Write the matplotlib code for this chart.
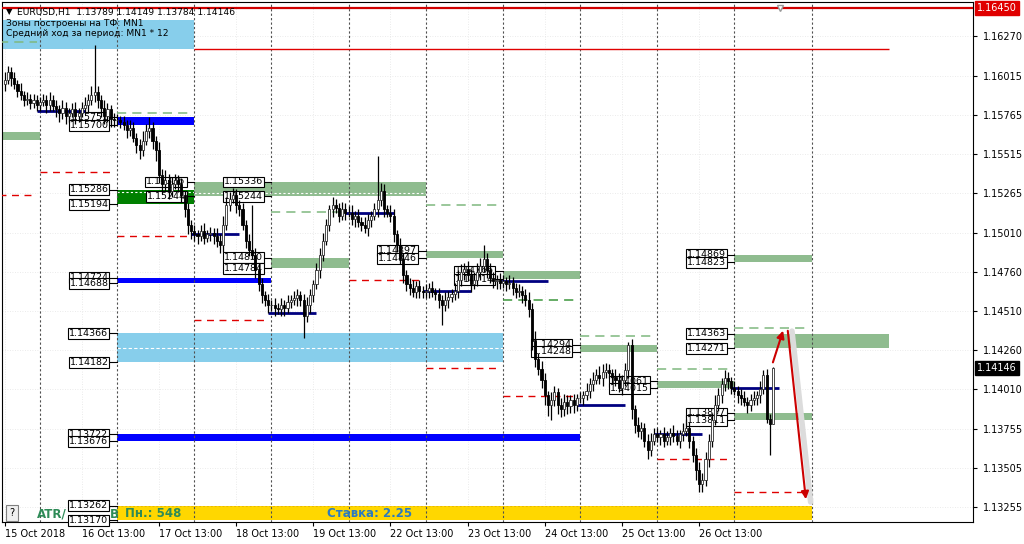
# EURUSD H1 chart with zones (MT4 style)
import numpy as np
import matplotlib.pyplot as plt

plt.rcParams['font.family'] = ['DejaVu Sans']

# ---- candle data (closes per hour, day by day) ----
close_15 = [1.1599, 1.1604, 1.1600, 1.1596, 1.1592, 1.1589, 1.1586, 1.1587, 1.1584, 1.1586, 1.1583]
close_16 = [1.1585, 1.1586, 1.1583, 1.1586, 1.1582, 1.1580, 1.1578, 1.1581, 1.1576, 1.1578, 1.1580, 1.1576,
            1.1578, 1.1581, 1.1583, 1.1586, 1.1589, 1.1591, 1.1586, 1.1581, 1.1576, 1.1580, 1.1574, 1.1573]
close_17 = [1.1573, 1.1572, 1.1570, 1.1567, 1.1568, 1.1562, 1.1557, 1.1554, 1.1560, 1.1566, 1.1568, 1.1560,
            1.1554, 1.1538, 1.1532, 1.1535, 1.1528, 1.1532, 1.1535, 1.1532, 1.1525, 1.1516, 1.1506, 1.1502]
close_18 = [1.1500, 1.1499, 1.1502, 1.1498, 1.1500, 1.1501, 1.1499, 1.1496, 1.1493, 1.1506, 1.1519, 1.1523,
            1.1525, 1.1519, 1.1516, 1.1506, 1.1496, 1.1490, 1.1487, 1.1477, 1.1468, 1.1461, 1.1458, 1.1455]
close_19 = [1.1455, 1.1453, 1.1452, 1.1455, 1.1453, 1.1457, 1.1458, 1.1459, 1.1461, 1.1458, 1.1448, 1.1455,
            1.1461, 1.1468, 1.1477, 1.1487, 1.1496, 1.1506, 1.1516, 1.1519, 1.1517, 1.1512, 1.1516, 1.1514]
close_22 = [1.1514, 1.1510, 1.1512, 1.1508, 1.1506, 1.1504, 1.1509, 1.1512, 1.1516, 1.1522, 1.1528, 1.1516,
            1.1514, 1.1512, 1.1500, 1.1493, 1.1484, 1.1474, 1.1468, 1.1466, 1.1463, 1.1467, 1.1464, 1.1463]
close_23 = [1.1464, 1.1466, 1.1463, 1.1462, 1.1458, 1.1455, 1.1458, 1.1460, 1.1462, 1.1464, 1.1471, 1.1476,
            1.1478, 1.1474, 1.1468, 1.1471, 1.1476, 1.1480, 1.1484, 1.1477, 1.1472, 1.1470, 1.1471, 1.1469]
close_24 = [1.1470, 1.1468, 1.1469, 1.1466, 1.1463, 1.1464, 1.1461, 1.1458, 1.1452, 1.1432, 1.1420, 1.1414,
            1.1407, 1.1397, 1.1391, 1.1394, 1.1399, 1.1391, 1.1388, 1.1393, 1.1390, 1.1394, 1.1391, 1.1395]
close_25 = [1.1395, 1.1397, 1.1400, 1.1404, 1.1407, 1.1410, 1.1408, 1.1412, 1.1413, 1.1411, 1.1409, 1.1407,
            1.1402, 1.1407, 1.1413, 1.1429, 1.1388, 1.1378, 1.1374, 1.1376, 1.1368, 1.1362, 1.1368, 1.1372]
close_26 = [1.1370, 1.1372, 1.1368, 1.1370, 1.1373, 1.1371, 1.1368, 1.1372, 1.1374, 1.1376, 1.1368, 1.1359,
            1.1349, 1.1340, 1.1343, 1.1356, 1.1368, 1.1381, 1.1391, 1.1397, 1.1404, 1.1408, 1.1406, 1.1402]
close_29 = [1.1400, 1.1397, 1.1395, 1.1393, 1.1391, 1.1394, 1.1395, 1.1397, 1.1401, 1.1410, 1.1382, 1.13789, 1.14146]

# wick lengths in pips (above max(open, close) / below min(open, close))
up_15 = [5, 4, 3, 4, 3, 5, 3, 4, 3, 4, 3]
dn_15 = [4, 3, 5, 3, 4, 3, 4, 3, 4, 3, 4]
up_16 = [3, 4, 3, 5, 3, 4, 3, 5, 4, 3, 4, 5, 3, 4, 5, 4, 6, 30, 4, 3, 5, 4, 3, 4]
dn_16 = [4, 3, 5, 4, 3, 5, 6, 4, 5, 4, 3, 5, 4, 3, 4, 5, 3, 4, 5, 6, 5, 4, 5, 4]
up_17 = [4, 3, 4, 3, 5, 4, 3, 4, 6, 5, 7, 4, 3, 5, 4, 6, 4, 5, 4, 3, 4, 3, 4, 3]
dn_17 = [3, 4, 3, 5, 4, 3, 5, 6, 4, 3, 4, 5, 7, 5, 6, 4, 5, 4, 3, 5, 4, 5, 6, 5]
up_18 = [4, 3, 4, 5, 3, 4, 3, 5, 4, 6, 5, 4, 5, 4, 3, 4, 3, 4, 29, 4, 5, 4, 3, 4]
dn_18 = [4, 5, 3, 4, 3, 4, 5, 4, 5, 4, 3, 4, 3, 5, 4, 3, 5, 4, 3, 5, 4, 5, 4, 5]
up_19 = [3, 4, 3, 4, 3, 4, 3, 5, 4, 3, 4, 5, 4, 3, 5, 4, 5, 4, 3, 5, 4, 3, 5, 4]
dn_19 = [4, 5, 3, 4, 5, 3, 4, 3, 5, 4, 14, 4, 5, 4, 3, 5, 4, 3, 4, 5, 3, 4, 3, 5]
up_22 = [4, 5, 3, 4, 3, 5, 4, 3, 4, 28, 5, 4, 3, 5, 4, 3, 5, 4, 3, 4, 5, 3, 4, 3]
dn_22 = [3, 4, 5, 3, 4, 3, 5, 4, 3, 5, 4, 5, 3, 4, 5, 4, 3, 5, 4, 5, 3, 4, 5, 4]
up_23 = [4, 3, 4, 3, 4, 3, 5, 4, 3, 5, 6, 5, 4, 5, 4, 5, 6, 5, 9, 4, 5, 4, 3, 4]
dn_23 = [4, 5, 3, 4, 5, 13, 4, 5, 3, 4, 5, 4, 5, 4, 5, 3, 4, 5, 4, 5, 3, 4, 5, 4]
up_24 = [4, 3, 5, 4, 3, 4, 3, 4, 5, 4, 6, 4, 5, 4, 3, 5, 4, 3, 4, 5, 4, 3, 4, 3]
dn_24 = [3, 4, 3, 5, 4, 3, 5, 4, 5, 6, 5, 4, 5, 6, 7, 10, 4, 6, 5, 4, 5, 4, 5, 4]
up_25 = [4, 3, 5, 4, 5, 4, 6, 5, 5, 4, 3, 5, 4, 3, 5, 2, 4, 3, 5, 4, 3, 4, 5, 4]
dn_25 = [3, 4, 3, 5, 4, 3, 4, 5, 4, 3, 5, 4, 3, 5, 4, 5, 6, 5, 4, 5, 4, 6, 4, 3]
up_26 = [4, 3, 5, 4, 3, 5, 4, 3, 5, 6, 4, 3, 4, 5, 4, 5, 4, 5, 6, 5, 4, 5, 4, 3]
dn_26 = [3, 5, 4, 3, 5, 4, 3, 5, 4, 3, 5, 5, 6, 5, 5, 4, 5, 4, 3, 4, 5, 4, 5, 4]
up_29 = [4, 3, 4, 5, 3, 4, 5, 3, 5, 3, 4, 3, 0.3]
dn_29 = [3, 5, 4, 3, 5, 4, 3, 4, 5, 3, 3, 20, 0.5]
first_open = 1.1596

# ---- axis labels ----
tick_labels = ['15 Oct 2018', '16 Oct 13:00', '17 Oct 13:00', '18 Oct 13:00', '19 Oct 13:00',
               '22 Oct 13:00', '23 Oct 13:00', '24 Oct 13:00', '25 Oct 13:00', '26 Oct 13:00']
price_ticks = [1.16270, 1.16015, 1.15765, 1.15515, 1.15265, 1.15010, 1.14760,
               1.14510, 1.14260, 1.14010, 1.13755, 1.13505, 1.13255]

# ---- zones: prices and day index (0 = 16 Oct, 1 = 17 Oct, ...), label day ----
zone_hi = [1.15655, 1.15751, 1.15286, 1.15336, 1.15336, 1.14850, 1.14724, 1.14366, 1.13722, 1.13262,
           1.14897, 1.14766, 1.14294, 1.14061, 1.13857, 1.14869, 1.14363]
zone_lo = [1.15604, 1.15700, 1.15194, 1.15244, 1.15244, 1.14784, 1.14688, 1.14182, 1.13676, 1.13170,
           1.14846, 1.14714, 1.14248, 1.14015, 1.13811, 1.14823, 1.14271]
zone_from = [-1, 1, 1, 2, 3, 3, 1, 1, 1, 1, 5, 6, 7, 8, 9, 9, 9]
zone_to = [0, 2, 2, 3, 5, 4, 3, 6, 7, 10, 6, 7, 8, 9, 10, 10, 11]
zone_kind = ['light', 'blue', 'dark', 'light', 'light', 'light', 'blue', 'sky', 'blue', 'gold',
             'light', 'light', 'light', 'light', 'light', 'light', 'light']
zone_label = [False, True, True, True, True, True, True, True, True, True,
              True, True, True, True, True, True, True]

navy_lvl = [1.1579, 1.1500, 1.1450, 1.1514, 1.1464, 1.1470, 1.1391, 1.1372, 1.1402]
navy_day = [0, 2, 3, 4, 5, 6, 7, 8, 9]
red_lvl = [1.15250, 1.15400, 1.14990, 1.14452, 1.14708, 1.14145, 1.13966, 1.13562, 1.13351]
red_day = [-1, 0, 1, 2, 4, 5, 6, 8, 9]
green_lvl = [1.16230, 1.15777, 1.15143, 1.15188, 1.14580, 1.14350, 1.14138, 1.14400]
green_day = [-1, 1, 3, 5, 6, 7, 8, 9]

top_level = 1.16450
month_level = 1.16187
last_price = 1.14146
arrow_up = [(238.7, 1.14164), (242.4, 1.14401)]
arrow_dn = [(243.5, 1.14401), (249.3, 1.13287)]

# ---- build OHLC ----
closes = np.array(close_15 + close_16 + close_17 + close_18 + close_19 + close_22 +
                  close_23 + close_24 + close_25 + close_26 + close_29)
up = np.array(up_15 + up_16 + up_17 + up_18 + up_19 + up_22 + up_23 + up_24 + up_25 + up_26 + up_29) / 10000
dn = np.array(dn_15 + dn_16 + dn_17 + dn_18 + dn_19 + dn_22 + dn_23 + dn_24 + dn_25 + dn_26 + dn_29) / 10000
opens = np.concatenate([[first_open], closes[:-1]])
highs = np.maximum(opens, closes) + up
lows = np.minimum(opens, closes) - dn
x = np.arange(len(closes))


def sep(k):
    # bar index of the day separator (00:00) for day k
    return 11 + 24 * k


fig = plt.figure(figsize=(10.24, 5.44), dpi=100)
ax = fig.add_axes([2 / 1024, 22 / 544, 971 / 1024, 520 / 544])
ax.set_xlim(-0.81, 301.2)
ax.set_ylim(1.13159, 1.16488)

# faint grid + day separators
for t in price_ticks:
    ax.axhline(t, color='#e4e4e4', ls=(0, (1, 2)), lw=0.6, zorder=0)
for t in range(0, 240, 24):
    ax.axvline(t, color='#e4e4e4', ls=(0, (1, 2)), lw=0.6, zorder=0)
for k in range(0, 11):
    ax.axvline(sep(k), color='#505050', ls=(0, (2, 2)), lw=0.8, zorder=3)

# header box
ax.fill_between([-0.81, sep(2)], 1.16186, 1.16370, color='#87ceeb', lw=0, zorder=1)

colors = {'light': '#8fbc8f', 'blue': '#0000ff', 'dark': '#008000', 'sky': '#87ceeb', 'gold': '#ffd700'}
for hi, lo, k0, k1, kind in zip(zone_hi, zone_lo, zone_from, zone_to, zone_kind):
    ax.fill_between([sep(k0), sep(k1)], lo, hi, color=colors[kind], lw=0, zorder=2)

# white dotted mid lines inside some zones
ax.hlines(1.15272, sep(1), sep(2), colors='white', ls=(0, (2, 2)), lw=0.8, zorder=2.5)
ax.hlines(1.15265, sep(2), sep(5), colors='white', ls=(0, (2, 2)), lw=0.8, zorder=2.5)
ax.hlines((1.14366 + 1.14182) / 2, sep(1), sep(6), colors='white', ls=(0, (3, 2)), lw=0.8, zorder=2.5)
ax.hlines(1.13262, sep(1), sep(10), colors='#e8b800', ls=(0, (2, 2)), lw=0.7, zorder=2.5)


# labels for zones
def price_box(price, k):
    s = sep(k)
    ax.plot([s - 2.5, s], [price, price], color='black', lw=0.8, zorder=4)
    ax.text(s - 2.7, price, '%.5f' % price, ha='right', va='center', fontsize=6.8, zorder=4.5,
            bbox=dict(boxstyle='square,pad=0.1', fc='white', ec='black', lw=0.8))


for hi, lo, k0, show in zip(zone_hi, zone_lo, zone_from, zone_label):
    if show:
        price_box(hi, k0)
        price_box(lo, k0)

# dashed projections
for lvl, k in zip(red_lvl, red_day):
    ax.hlines(lvl, sep(k), sep(k) + 22, colors='#e00000', ls=(0, (5, 4)), lw=1, zorder=4)
for lvl, k in zip(green_lvl, green_day):
    c = '#3c963c' if k == 6 else '#7fb87f'
    ax.hlines(lvl, sep(k), sep(k) + 23, colors=c, ls=(0, (6, 4)), lw=1.1, zorder=4)
for lvl, k in zip(navy_lvl, navy_day):
    ax.hlines(lvl, sep(k) - 1, sep(k) + 14, colors='#000080', lw=2, zorder=6)

# red levels
ax.axhline(top_level, color='#d00000', lw=1.6, zorder=5)
ax.hlines(month_level, sep(2), sep(11), colors='#e00000', lw=1, zorder=5)
ax.plot(241.2, top_level, marker='v', color='white', mec='#999999', ms=5, zorder=6)

# candles
bull = closes >= opens
ax.vlines(x, lows, highs, color='black', lw=0.9, zorder=10)
ax.bar(x[bull], (closes - opens)[bull], bottom=opens[bull], width=0.65,
       color='white', edgecolor='#303030', lw=0.6, zorder=11)
ax.bar(x[~bull], (opens - closes)[~bull], bottom=closes[~bull], width=0.65,
       color='black', edgecolor='black', lw=0.6, zorder=11)

# forecast arrows
ax.plot([arrow_dn[0][0] + 1.4, arrow_dn[1][0] + 1.4], [arrow_dn[0][1] - 0.0002, arrow_dn[1][1]],
        color='#dcdcdc', lw=4, zorder=12, solid_capstyle='round')
for a in (arrow_up, arrow_dn):
    ax.annotate('', xy=a[1], xytext=a[0], zorder=13,
                arrowprops=dict(arrowstyle='-|>', color='#cc0000', lw=1.5, mutation_scale=11))

# texts in the corner and yellow zone
fig.text(6 / 1024, 1 - 12 / 544, '▼', fontsize=6, va='center')
fig.text(17 / 1024, 1 - 12 / 544, 'EURUSD,H1  1.13789 1.14149 1.13784 1.14146', fontsize=6.6, va='center')
fig.text(6 / 1024, 1 - 23 / 544, 'Зоны построены на ТФ: MN1', fontsize=6.6, va='center')
fig.text(6 / 1024, 1 - 33 / 544, 'Средний ход за период: MN1 * 12', fontsize=6.6, va='center')
fig.text(37 / 1024, 1 - 514 / 544, 'ATR/', color='#2e8b57', fontsize=8.5, fontweight='bold', va='center')
fig.text(110 / 1024, 1 - 514 / 544, 'B', color='#2e8b57', fontsize=8.5, fontweight='bold', va='center')
ax.text(sep(1) + 2.6, 1.13216, 'Пн.: 548', color='#2e8b57', fontsize=8.5, fontweight='bold',
        va='center', zorder=3)
ax.text(100.3, 1.13216, 'Ставка: 2.25', color='#2b7bc0', fontsize=8.5, fontweight='bold',
        va='center', zorder=3)
fig.text(12 / 1024, 1 - 513 / 544, '?', fontsize=7, ha='center', va='center',
         bbox=dict(boxstyle='square,pad=0.35', fc='#f0f0f0', ec='#808080', lw=0.8))

# axes
ax.yaxis.tick_right()
ax.set_yticks(price_ticks)
ax.set_yticklabels(['%.5f' % t for t in price_ticks])
ax.tick_params(axis='y', direction='out', length=3, pad=4, labelsize=7)
ax.set_xticks(range(0, 240, 24))
ax.set_xticklabels(tick_labels, ha='left')
ax.tick_params(axis='x', direction='out', length=3, pad=2, labelsize=7)
for sp in ax.spines.values():
    sp.set_color('black')
    sp.set_linewidth(0.8)

ax.annotate('%.5f' % top_level, xy=(1, top_level), xycoords=('axes fraction', 'data'), xytext=(3, 0),
            textcoords='offset points', va='center', ha='left', fontsize=7, color='white',
            bbox=dict(boxstyle='square,pad=0.2', fc='#e00000', ec='#e00000'))
ax.annotate('%.5f' % last_price, xy=(1, last_price), xycoords=('axes fraction', 'data'), xytext=(3, 0),
            textcoords='offset points', va='center', ha='left', fontsize=7, color='white',
            bbox=dict(boxstyle='square,pad=0.2', fc='black', ec='black'))

plt.savefig('out.png', dpi=100)
